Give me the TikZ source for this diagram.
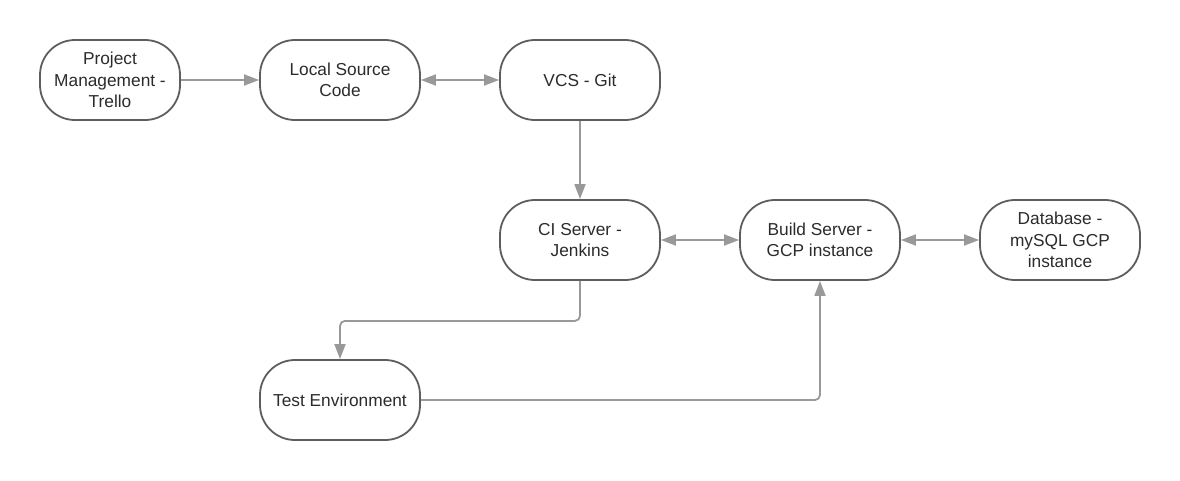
\documentclass[tikz,border=0pt]{standalone}
\usepackage{fontspec}
\setmainfont{Liberation Sans}
\usetikzlibrary{arrows.meta}
\definecolor{boxline}{HTML}{5E5E5E}
\definecolor{conn}{HTML}{999999}
\definecolor{txt}{HTML}{2B2B2B}
\begin{document}
\begin{tikzpicture}[x=1pt,y=-1pt,
  box/.style={draw=boxline,line width=1.8pt,rounded corners=35pt,minimum height=80pt,minimum width=160pt,inner sep=0pt,align=center,text=txt,font=\fontsize{17.3}{21.5}\selectfont},
  conline/.style={draw=conn,line width=1.8pt},
  tip/.style={-{Triangle[length=15pt,width=11pt]}},
  dtip/.style={{Triangle[length=15pt,width=11pt]}-{Triangle[length=15pt,width=11pt]}}]
\useasboundingbox (0,0) rectangle (1180,480);
\node[box,minimum width=140pt] (pm) at (110,80) {Project\\Management -\\Trello};
\node[box] (lsc) at (340,80) {Local Source\\Code};
\node[box] (vcs) at (580,80) {VCS - Git};
\node[box] (ci) at (580,240) {CI Server -\\Jenkins};
\node[box] (bs) at (820,240) {Build Server -\\GCP instance};
\node[box] (db) at (1060,240) {Database -\\mySQL GCP\\instance};
\node[box] (te) at (340,400) {Test Environment};
\draw[conline,tip] (pm) -- (lsc);
\draw[conline,dtip] (lsc) -- (vcs);
\draw[conline,tip] (vcs) -- (ci);
\draw[conline,dtip] (ci) -- (bs);
\draw[conline,dtip] (bs) -- (db);
\draw[conline,tip,rounded corners=5pt] (ci.south) -- ++(0,40) -| (te.north);
\draw[conline,tip,rounded corners=5pt] (te.east) -| (bs.south);
\end{tikzpicture}
\end{document}
